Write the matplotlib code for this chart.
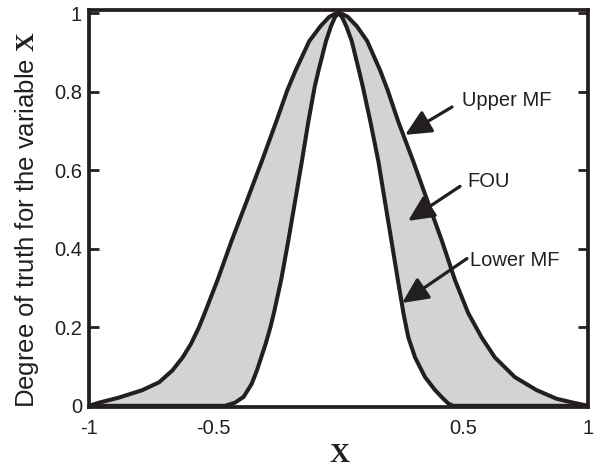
import matplotlib
matplotlib.use("Agg")
import matplotlib.pyplot as plt

# Upper MF points
upper_x = [-1.0, -0.96, -0.88, -0.786, -0.719, -0.666, -0.625, -0.592, -0.56, -0.54,
           -0.485, -0.428, -0.368, -0.308, -0.25, -0.205, -0.172, -0.117, -0.072, -0.038,
           -0.018, 0.0, 0.018, 0.038, 0.073, 0.115, 0.167, 0.197, 0.24, 0.3,
           0.357, 0.414, 0.467, 0.52, 0.574, 0.627, 0.707, 0.794, 0.874, 0.941, 1.0]
upper_y = [0.0, 0.008, 0.021, 0.04, 0.06, 0.09, 0.123, 0.157, 0.199, 0.23,
           0.32, 0.421, 0.521, 0.622, 0.723, 0.804, 0.854, 0.929, 0.967, 0.99,
           0.997, 1.0, 0.997, 0.99, 0.967, 0.929, 0.854, 0.804, 0.723, 0.622,
           0.521, 0.421, 0.32, 0.236, 0.174, 0.123, 0.073, 0.04, 0.018, 0.008, 0.0]

# Lower MF points
lower_x = [-1.0, -0.455, -0.415, -0.38, -0.348, -0.327, -0.31, -0.291, -0.273, -0.259,
           -0.23, -0.201, -0.174, -0.147, -0.121, -0.095, -0.08, -0.05, -0.03, -0.014,
           0.0, 0.014, 0.031, 0.053, 0.082, 0.097, 0.128, 0.16, 0.186, 0.212,
           0.238, 0.262, 0.28, 0.307, 0.347, 0.387, 0.42, 0.44, 0.459, 1.0]
lower_y = [0.0, 0.0, 0.008, 0.023, 0.056, 0.09, 0.123, 0.16, 0.2, 0.236,
           0.32, 0.421, 0.521, 0.622, 0.723, 0.814, 0.854, 0.929, 0.967, 0.99,
           1.0, 0.99, 0.967, 0.929, 0.854, 0.814, 0.723, 0.622, 0.521, 0.421,
           0.32, 0.23, 0.174, 0.123, 0.073, 0.04, 0.018, 0.006, 0.0, 0.0]

x_ticks = [-1, -0.5, 0.5, 1]
x_tick_labels = ['-1', '-0.5', '0.5', '1']
y_ticks = [0, 0.2, 0.4, 0.6, 0.8, 1]
y_tick_labels = ['0', '0.2', '0.4', '0.6', '0.8', '1']

labels = ['Upper MF', 'FOU', 'Lower MF']
label_pos = [(0.495, 0.778), (0.515, 0.572), (0.527, 0.37)]
arrow_tail = [(0.455, 0.761), (0.487, 0.559), (0.515, 0.375)]
arrow_tip = [(0.267, 0.69), (0.279, 0.471), (0.255, 0.262)]

plt.rcParams['font.family'] = ['Liberation Sans', 'DejaVu Sans']
plt.rcParams['mathtext.fontset'] = 'custom'
plt.rcParams['mathtext.bf'] = 'Liberation Serif:bold'
plt.rcParams['mathtext.rm'] = 'Liberation Serif'

ink = '#231f20'
fill_c = '#d1d3d4'

fig = plt.figure(figsize=(5.95, 4.68), dpi=100)
ax = fig.add_axes([89/595, 1-407/468, (588-89)/595, (407-10)/468])

poly_x = upper_x + lower_x[::-1]
poly_y = upper_y + lower_y[::-1]
ax.fill(poly_x, poly_y, color=fill_c, lw=0, zorder=1)
ax.plot(upper_x, upper_y, color=ink, lw=2.9, solid_joinstyle='round', zorder=3)
ax.plot(lower_x, lower_y, color=ink, lw=2.9, solid_joinstyle='round', zorder=3)

ax.set_xlim(-1, 1)
ax.set_ylim(-0.003, 1.008)

for s in ax.spines.values():
    s.set_linewidth(2.7)
    s.set_color(ink)
    s.set_zorder(4)

ax.set_xticks(x_ticks)
ax.set_xticklabels(x_tick_labels)
ax.set_yticks(y_ticks)
ax.set_yticklabels(y_tick_labels)
ax.tick_params(axis='x', length=0, pad=9, labelsize=14.5, colors=ink)
ax.tick_params(axis='y', direction='in', length=7, width=2, pad=5, labelsize=14.5,
               colors=ink, right=True)

for lab, lp, tl, tp in zip(labels, label_pos, arrow_tail, arrow_tip):
    ax.text(lp[0], lp[1], lab, fontsize=14.5, color=ink, ha='left', va='center', zorder=5)
    ax.annotate('', xy=tp, xytext=tl,
                arrowprops=dict(arrowstyle='-|>,head_length=1.05,head_width=0.5',
                                mutation_scale=15, color=ink, lw=2.3,
                                shrinkA=0, shrinkB=0),
                zorder=5)

fig.text(340/595, 1-455/468, r'$\mathbf{X}$', fontsize=20, color=ink, ha='center', va='center')
fig.text(27.5/595, 1-220/468, r'Degree of truth for the variable $\mathbf{X}$', fontsize=18.5,
         color=ink, rotation=90, ha='center', va='center')

fig.savefig('out.png', dpi=100)
